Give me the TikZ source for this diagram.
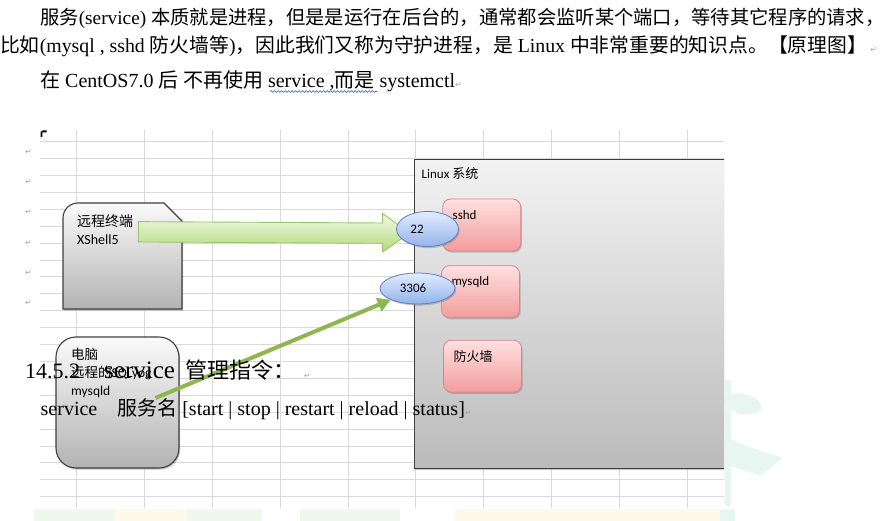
\documentclass[tikz,border=0pt]{standalone}
\usepackage{fontspec}
\setmainfont{Liberation Serif}
\newfontfamily\cjk{Noto Sans CJK SC}
\newfontfamily\calib{Carlito}
\newfontfamily\dejavu{DejaVu Sans}
\usepackage{tikz}
\usetikzlibrary{shapes,arrows.meta,decorations.pathmorphing,shadows,calc,positioning}

\definecolor{gridgray}{HTML}{D9D9D9}
\definecolor{boxedge}{HTML}{3F3F3F}
\definecolor{linuxtop}{HTML}{F2F2F2}
\definecolor{linuxbot}{HTML}{BBBBBB}
\definecolor{clienttop}{HTML}{FAFAFA}
\definecolor{clientbot}{HTML}{B3B3B3}
\definecolor{svctop}{HTML}{FFE0E0}
\definecolor{svcbot}{HTML}{F39C9C}
\definecolor{svcedge}{HTML}{D9838A}
\definecolor{porttop}{HTML}{E2ECFF}
\definecolor{portbot}{HTML}{94B4EA}
\definecolor{portedge}{HTML}{5B80C4}
\definecolor{arrowtop}{HTML}{F0FAE2}
\definecolor{arrowbot}{HTML}{B4DA7E}
\definecolor{arrowedge}{HTML}{9DC56A}
\definecolor{linkgreen}{HTML}{8EB84F}
\definecolor{markgray}{HTML}{A6A6A6}
\definecolor{wavyblue}{HTML}{3050D0}
\definecolor{wmteal}{HTML}{E8F6F1}
\definecolor{wmyellow}{HTML}{FDFAEC}
\definecolor{wmgreen}{HTML}{EFF8EC}

\newcommand{\zh}[1]{{\cjk #1}}
\newcommand{\pmark}{{\dejavu\fontsize{8}{8}\selectfont\color{markgray}↵}}

\pgfdeclarelayer{front}
\pgfsetlayers{main,front}

\begin{document}
\begin{tikzpicture}[x=1pt,y=-1pt]
			\tikzstyle{GridLine} = [draw=gridgray, line width=0.8pt]
			\tikzstyle{Shadow}   = [drop shadow={shadow xshift=1.2pt, shadow yshift=-1.6pt, opacity=0.45}]
			\tikzstyle{Linux}    = [rectangle, draw=boxedge, line width=0.9pt, top color=linuxtop, bottom color=linuxbot, minimum width=314pt, minimum height=309pt, inner sep=0pt, Shadow]
			\tikzstyle{Service}  = [rectangle, rounded corners=8pt, draw=svcedge, line width=0.8pt, top color=svctop, bottom color=svcbot, minimum width=78pt, minimum height=52pt, text width=58pt, align=left, text depth=21pt, inner xsep=10pt, inner ysep=2pt, font=\calib\fontsize{13}{15}\selectfont, Shadow]
			\tikzstyle{Port}     = [ellipse, draw=portedge, line width=0.8pt, top color=porttop, bottom color=portbot, inner sep=0pt, font=\calib\fontsize{13}{15}\selectfont, Shadow]
			\tikzstyle{Client}   = [draw=boxedge, line width=1.1pt, top color=clienttop, bottom color=clientbot, Shadow]
			\tikzstyle{Desk}     = [rectangle, rounded corners=20pt, Client, minimum width=123pt, minimum height=131pt, inner sep=0pt]
			\tikzstyle{Label}    = [font=\calib\fontsize{13}{15}\selectfont, inner sep=0pt]
			\tikzstyle{CText}    = [font=\calib\fontsize{14}{18}\selectfont, align=left, inner sep=0pt]
			\tikzstyle{BigArrow} = [draw=arrowedge, line width=0.9pt, top color=arrowtop, bottom color=arrowbot]
			\tikzstyle{Link}     = [draw=linkgreen, line width=4pt, -{Triangle[length=13pt,width=14pt]}]
			\tikzstyle{Body}     = [font=\fontsize{20}{24}\selectfont, inner sep=0pt, anchor=base west]
			\tikzstyle{Mark}     = [font=\dejavu\fontsize{8}{8}\selectfont, text=markgray, inner sep=0pt]
			\tikzstyle{Wavy}     = [draw=wavyblue, line width=0.6pt, decorate, decoration={snake, amplitude=0.9pt, segment length=3.5pt}]
			\tikzstyle{Water}    = [draw=none]

			\useasboundingbox (0,0) rectangle (886,521);
			\fill[white] (0,0) rectangle (886,521);

			% watermark behind the page
			\fill[Water, fill=wmteal] (725,380) rectangle (731,506);
			\fill[Water, fill=wmteal, rotate around={-12:(743,404)}] (743,404) ellipse [x radius=19, y radius=10];
			\fill[Water, fill=wmteal] (726,438) -- (752,448) -- (783,458) -- (760,476) -- (731,466) -- cycle;
			\fill[Water, fill=wmgreen] (34,509) rectangle (262,521);
			\fill[Water, fill=wmyellow] (114,509) rectangle (187,521);
			\fill[Water, fill=wmgreen] (300,509) rectangle (400,521);
			\fill[Water, fill=wmyellow] (455,509) rectangle (720,521);
			\fill[Water, fill=wmteal] (720,509) rectangle (735,521);

			\begin{scope}
				\clip (38,128) rectangle (724,508);
				\fill[white] (40,130) rectangle (724,508);

				% sheet grid
				\foreach \i in {0,...,21}
					\draw[GridLine] (40,{141.7+16.9*\i}) -- (724,{141.7+16.9*\i});
				\foreach \i in {0,...,9}
					\draw[GridLine] ({76.7+67.8*\i},130) -- ({76.7+67.8*\i},508);

				\node (linux) at (571,313.8) [Linux] {};
				\node (ltitle) at (421.5,174) [Label, anchor=west] {Linux \zh{系统}};

				\node (sshd) at (481.7,225) [Service] {sshd};
				\node (mysqld) at (480.5,291.7) [Service] {mysqld};
				\node (fw) at (482.5,366.2) [Service] {\zh{防火墙}};

				\begin{pgfonlayer}{front}
					\node (p22) at (427.5,229) [Port, minimum width=62pt, minimum height=35pt] {22\hspace*{21pt}};
					\node (p3306) at (417.5,288.5) [Port, minimum width=75pt, minimum height=31pt] {3306\hspace*{9pt}};
				\end{pgfonlayer}

				\draw[Client] (63,309) -- (63,218) to[out=90,in=180] (78,203) -- (164,203) -- (182,221) -- (182,309) -- cycle;
				\node (xsh) at (77,214.5) [CText, anchor=north west] {\zh{远程终端}\\XShell5};

				\node (pc) at (117.5,402.5) [Desk] {};
				\node (pctxt) at (71,347.5) [CText, font=\calib\fontsize{13.5}{18}\selectfont, anchor=north west] {\zh{电脑}\\\zh{远程的}SQLyog\\mysqld};

				\coordinate (a0) at ($(xsh.east)+(5,2)$);
				\coordinate (a1) at ($(p22.west)+(13.5,4)$);
				\draw[BigArrow] ($(a0)+(0,-10)$) -- ($(a1)+(-27,-10)$) -- ($(a1)+(-27,-19.5)$) -- (a1)
					-- ($(a1)+(-27,19)$) -- ($(a1)+(-27,10.3)$) -- ($(a0)+(0,10.3)$) -- cycle;

				\coordinate (s0) at ($(pc.center)+(38,-4.5)$);
				\draw[Link] (s0) -- (p3306.south west);
			\end{scope}

			% anchor mark and paragraph marks
			\fill[black] (40.5,131.5) rectangle (42.3,137) (42.3,130.5) rectangle (46.5,132.5);
			\foreach \y [count=\k] in {151.7,181.7,211.7,243.3,273.3,303.3}
				\node (mk\k) at (28.5,\y) [Mark] {↵};

			% page text
			\node (t1) at (40,24.5) [Body, font=\fontsize{19.3}{24}\selectfont] {\zh{服务}(service) \zh{本质就是进程，但是是运行在后台的，通常都会监听某个端口，等待其它程序的请求，}};
			\node (t2) at (0,52.5) [Body, font=\fontsize{19.8}{24}\selectfont] {\zh{比如}(mysql , sshd \zh{防火墙等})\zh{，因此我们又称为守护进程，是} Linux \zh{中非常重要的知识点。【原理图】}\,\pmark};
			\node (t3) at (40,87.5) [Body] {\zh{在} CentOS7.0 \zh{后 不再使用} service ,\zh{而是} systemctl\pmark};
			\draw[Wavy] (270,91.5) -- (377,91.5);

			\node (h1) at (25,378.5) [Body, font=\fontsize{22}{26}\selectfont] {14.5.2\hspace{24pt}{\fontsize{25}{28}\selectfont service}\hspace{11pt}\zh{管理指令：}\hspace{8pt}\pmark};
			\node (cmd) at (40.5,415) [Body] {service\hspace{20pt}\zh{服务名} [start | stop | restart | reload | status]\pmark};
		\end{tikzpicture}
\end{document}
